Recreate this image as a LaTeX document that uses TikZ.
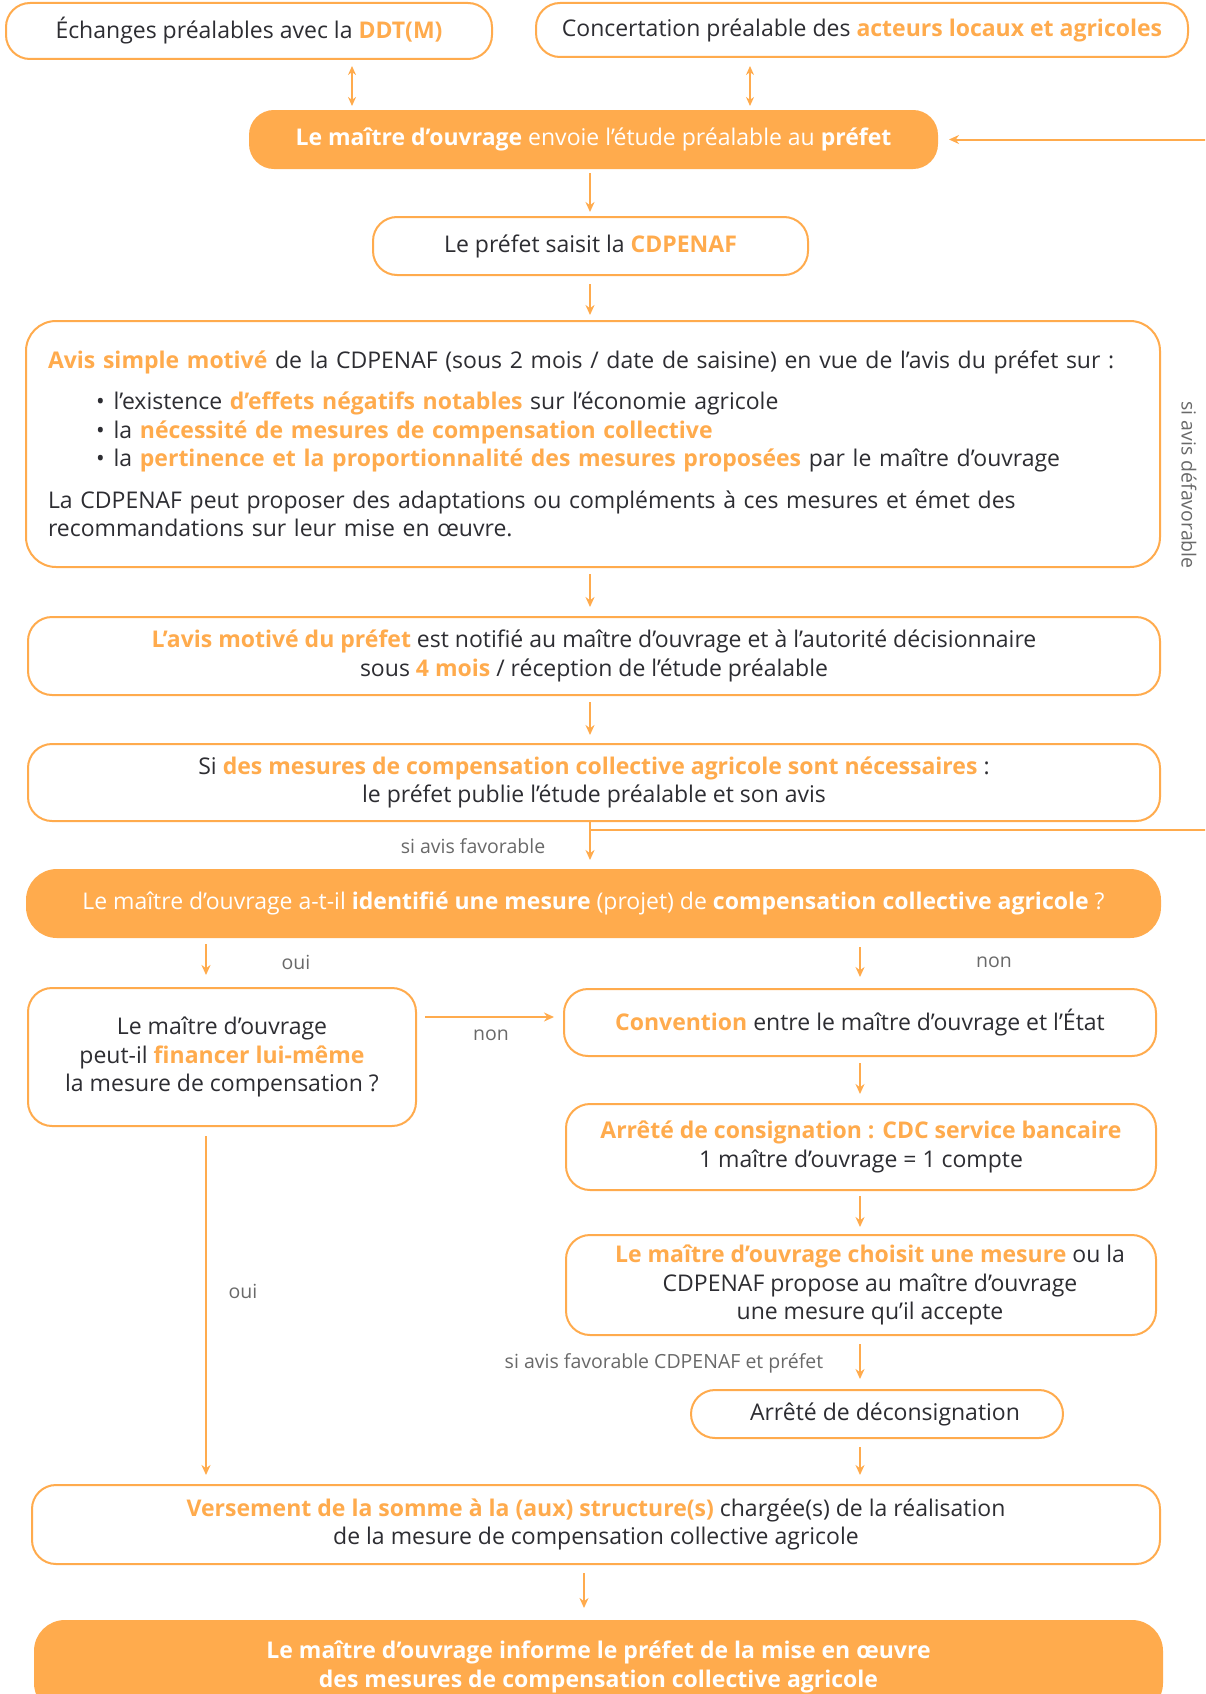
\documentclass[tikz,border=0pt]{standalone}
\usepackage{fontspec}
\setmainfont{Open Sans}
\usetikzlibrary{arrows.meta}
\definecolor{ddtorange}{RGB}{255,171,77}
\definecolor{darktext}{RGB}{45,45,50}
\definecolor{labelgray}{RGB}{105,105,105}
\newcommand{\hl}[1]{\textcolor{ddtorange}{\bfseries #1}}
\newcommand{\puce}{\hspace*{48pt}\textbullet\hspace{9pt}}

\begin{document}
\begin{tikzpicture}[x=1pt, y=-1pt,
	box/.style={rectangle, rounded corners=24pt, draw=ddtorange, line width=2pt, fill=white,
		text=darktext, align=center, inner sep=0pt, font=\fontsize{23}{28.5}\selectfont},
	filled/.style={box, fill=ddtorange, text=white},
	flow/.style={ddtorange, line width=2pt, -{Stealth[length=10pt, width=9pt]}},
	twoway/.style={ddtorange, line width=2pt, {Stealth[length=9pt, width=8pt]}-{Stealth[length=9pt, width=8pt]}},
	cond/.style={text=labelgray, font=\fontsize{19.5}{22}\selectfont}]
	
	\useasboundingbox (0,0) rectangle (1205,1694);
	\clip (0,0) rectangle (1205,1694);
	
	\node[box, minimum width=486pt, minimum height=56pt] at (249,31) (ddt)
	{Échanges préalables avec la \hl{DDT(M)}};
	\node[box, minimum width=652pt, minimum height=54pt] at (862,30) (concert)
	{Concertation préalable des \hl{acteurs locaux et agricoles}};
	
	\node[filled, minimum width=687pt, minimum height=57pt] at (593.5,139.5) (envoi)
	{\textbf{Le maître d’ouvrage} envoie l’étude préalable au \textbf{préfet}};
	\node[box, minimum width=435pt, minimum height=58pt] at (590.5,246) (saisit)
	{Le préfet saisit la \hl{CDPENAF}};
	
	\node[box, minimum width=1134pt, minimum height=246pt, text width=1090pt, align=left,
	rounded corners=30pt] at (593,444) (avis)
	{\hl{Avis simple motivé} de la CDPENAF (sous 2 mois / date de saisine) en vue de l’avis du préfet sur :\\[13pt]
		\puce l’existence \hl{d’effets négatifs notables} sur l’économie agricole\\
		\puce la \hl{nécessité de mesures de compensation collective}\\
		\puce la \hl{pertinence et la proportionnalité des mesures proposées} par le maître d’ouvrage\\[13pt]
		La CDPENAF peut proposer des adaptations ou compléments à ces mesures et émet des\\
		recommandations sur leur mise en œuvre.};
	
	\node[box, minimum width=1132pt, minimum height=78pt] at (594,656) (notif)
	{\hl{L’avis motivé du préfet} est notifié au maître d’ouvrage et à l’autorité décisionnaire\\
		sous \hl{4 mois} / réception de l’étude préalable};
	\node[box, minimum width=1132pt, minimum height=77pt] at (594,782.5) (publie)
	{Si \hl{des mesures de compensation collective agricole sont nécessaires} :\\
		le préfet publie l’étude préalable et son avis};
	
	\node[filled, minimum width=1133pt, minimum height=67pt, rounded corners=30pt] at (593.5,903.5) (question)
	{Le maître d’ouvrage a-t-il \textbf{identifié une mesure} (projet) de \textbf{compensation collective agricole} ?};
	
	\node[box, minimum width=388pt, minimum height=138pt] at (222,1057) (finance)
	{Le maître d’ouvrage\\ peut-il \hl{financer lui-même}\\ la mesure de compensation ?};
	\node[box, minimum width=592pt, minimum height=67pt] at (860,1022.5) (convention)
	{\hl{Convention} entre le maître d’ouvrage et l’État};
	\node[box, minimum width=590pt, minimum height=86pt] at (861,1147) (consign)
	{\hl{Arrêté de consignation : CDC service bancaire}\\ 1 maître d’ouvrage = 1 compte};
	\node[box, minimum width=590pt, minimum height=100pt] at (861,1285) (choix)
	{\hspace*{18pt}\hl{Le maître d’ouvrage choisit une mesure} ou la\\
		\hspace*{18pt}CDPENAF propose au maître d’ouvrage\\
		\hspace*{18pt}une mesure qu’il accepte};
	\node[box, minimum width=372pt, minimum height=48pt] at (877,1414) (deconsign)
	{\hspace*{16pt}Arrêté de déconsignation};
	
	\node[box, minimum width=1128pt, minimum height=79pt] at (596,1524.5) (versement)
	{\hl{Versement de la somme à la (aux) structure(s)} chargée(s) de la réalisation\\
		de la mesure de compensation collective agricole};
	\node[filled, minimum width=1127pt, minimum height=92pt, rounded corners=30pt] at (598.5,1667) (informe)
	{\textbf{Le maître d’ouvrage informe le préfet de la mise en œuvre}\\
		\textbf{des mesures de compensation collective agricole}};
	
	\coordinate (xddt) at (352,0);
	\coordinate (xconc) at (750,0);
	\coordinate (xmain) at (590,0);
	\coordinate (xbas) at (584,0);
	\coordinate (xoui) at (206,0);
	\coordinate (xnon) at (860,0);
	\coordinate (ynon) at (0,1017);
	\coordinate (retour) at (1225,830);
	
	\draw[twoway, shorten <=6pt, shorten >=4pt] (ddt.south -| xddt) -- (envoi.north -| xddt);
	\draw[twoway, shorten <=8pt, shorten >=4pt] (concert.south -| xconc) -- (envoi.north -| xconc);
	\draw[flow, shorten <=4pt, shorten >=4pt] (envoi.south -| xmain) -- (saisit.north -| xmain);
	\draw[flow, shorten <=8pt, shorten >=5pt] (saisit.south -| xmain) -- (avis.north -| xmain);
	\draw[flow, shorten <=6pt, shorten >=9pt] (avis.south -| xmain) -- (notif.north -| xmain);
	\draw[flow, shorten <=6pt, shorten >=8pt] (notif.south -| xmain) -- (publie.north -| xmain);
	\draw[flow, shorten >=9pt] (publie.south -| xmain) -- (question.north -| xmain);
	\draw[flow, shorten >=11pt] (publie.south -| xmain) |- (retour) |- (envoi.east);
	
	\draw[flow, shorten <=6pt, shorten >=12pt] (question.south -| xoui) -- (finance.north -| xoui);
	\draw[flow, shorten <=9pt, shorten >=11pt] (question.south -| xnon) -- (convention.north -| xnon);
	\draw[flow, shorten <=8pt, shorten >=9pt] (finance.east |- ynon) -- (convention.west |- ynon);
	\draw[flow, shorten <=6pt, shorten >=9pt] (convention.south -| xnon) -- (consign.north -| xnon);
	\draw[flow, shorten <=5pt, shorten >=7pt] (consign.south -| xnon) -- (choix.north -| xnon);
	\draw[flow, shorten <=8pt, shorten >=10pt] (choix.south -| xnon) -- (deconsign.north -| xnon);
	\draw[flow, shorten <=8pt, shorten >=9pt] (deconsign.south -| xnon) -- (versement.north -| xnon);
	\draw[flow, shorten <=9pt, shorten >=9pt] (finance.south -| xoui) -- (versement.north -| xoui);
	\draw[flow, shorten <=8pt, shorten >=12pt] (versement.south -| xbas) -- (informe.north -| xbas);
	
	\node[cond, rotate=-90] at (1189,485) (defavorable) {si avis défavorable};
	\node[cond] at (473,846) (favorable) {si avis favorable};
	\node[cond] at (296,962) (oui1) {oui};
	\node[cond] at (994,962) (non1) {non};
	\node[cond] at (491,1035) (non2) {non};
	\node[cond] at (243,1291) (oui2) {oui};
	\node[cond] at (664,1363) (favorable2) {si avis favorable CDPENAF et préfet};
\end{tikzpicture}
\end{document}
